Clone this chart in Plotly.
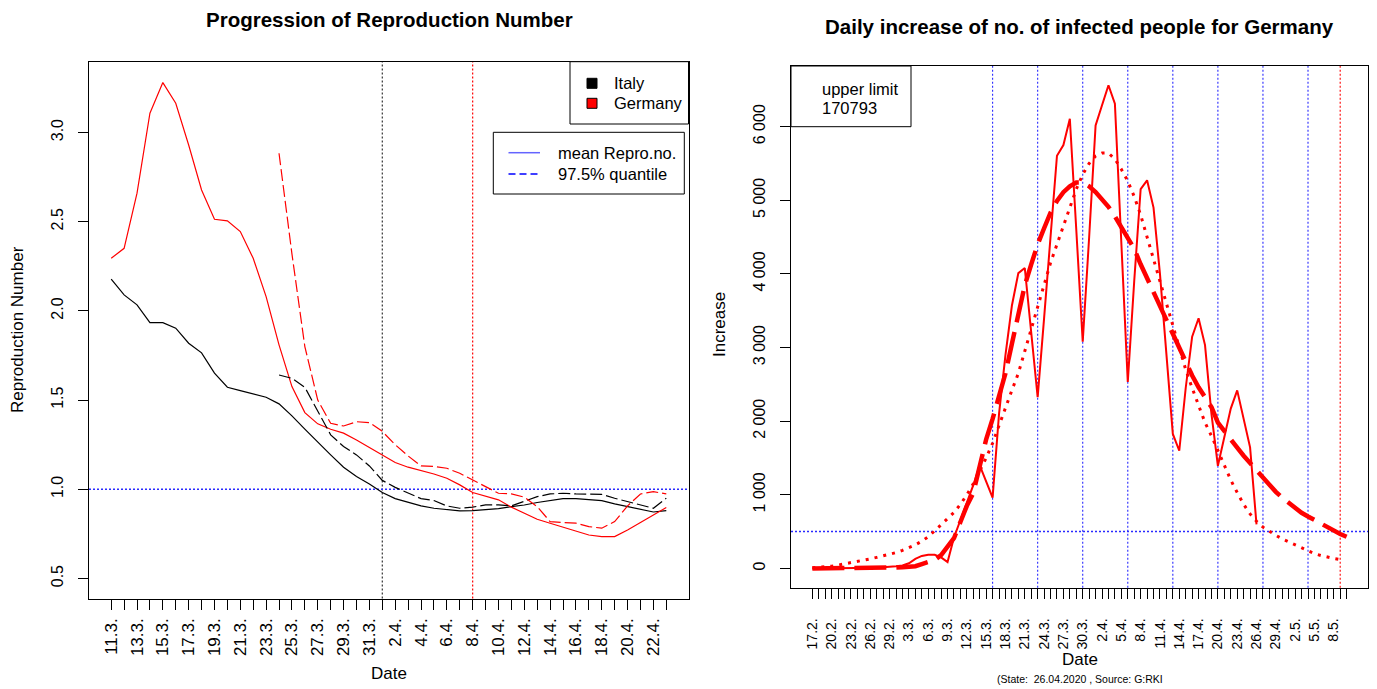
import pandas as pd
import plotly.graph_objects as go

W, H = 1377, 689
FONT = "Liberation Sans, Arial, sans-serif"

# ---------------- left panel: reproduction number (daily from 11.3.2020) ----------------
left_start = "2020-03-11"
italy_mean = [2.178, 2.09, 2.034, 1.934, 1.934, 1.903, 1.819, 1.765, 1.651, 1.572,
              1.553, 1.534, 1.516, 1.479, 1.412, 1.337, 1.262, 1.193, 1.124, 1.072,
              1.030, 0.982, 0.948, 0.926, 0.907, 0.894, 0.885, 0.879, 0.881, 0.885,
              0.892, 0.903, 0.912, 0.926, 0.937, 0.948, 0.948, 0.944, 0.937, 0.918,
              0.903, 0.888, 0.873, 0.881]
germany_mean = [2.295, 2.351, 2.66, 3.108, 3.28, 3.164, 2.93, 2.678, 2.514, 2.505,
                2.445, 2.295, 2.08, 1.81, 1.576, 1.43, 1.367, 1.337, 1.315, 1.277,
                1.234, 1.19, 1.15, 1.124, 1.105, 1.086, 1.062, 1.025, 0.982, 0.963,
                0.941, 0.900, 0.866, 0.832, 0.810, 0.787, 0.768, 0.744, 0.735, 0.735,
                0.772, 0.813, 0.856, 0.898]
quantile_start = "2020-03-24"
italy_q975 = [1.641, 1.622, 1.572, 1.436, 1.305, 1.240, 1.193, 1.131, 1.05, 1.011,
              0.981, 0.948, 0.937, 0.907, 0.894, 0.900, 0.913, 0.913, 0.907, 0.931,
              0.959, 0.974, 0.978, 0.974, 0.974, 0.972, 0.950, 0.931, 0.913, 0.894,
              0.950]
germany_q975 = [2.884, 2.32, 1.80, 1.50, 1.37, 1.355, 1.379, 1.374, 1.325, 1.25,
                1.187, 1.131, 1.128, 1.118, 1.09, 1.053, 1.015, 0.978, 0.974, 0.956,
                0.903, 0.819, 0.814, 0.810, 0.791, 0.782, 0.819, 0.907, 0.974, 0.987,
                0.974]
left_yticks = [0.5, 1.0, 1.5, 2.0, 2.5, 3.0]
left_vline_black = "2020-04-01"
left_vline_red = "2020-04-08"
left_hline = 1.0
left_legend1 = ["Italy", "Germany"]
left_legend2 = ["mean Repro.no.", "97.5% quantile"]

# ---------------- right panel: daily increase Germany (daily from 17.2.2020) ----------------
right_start = "2020-02-17"
right_axis_days = 84
daily_increase = [0, 0, 0, 0, 0, 0, 0, 0, 2, 5,
                  10, 15, 20, 30, 40, 70, 130, 170, 185, 185,
                  150, 86, 420, 650, 880, 1130, 1400, 1190, 961, 2100,
                  2900, 3570, 4010, 4080, 3200, 2326, 3400, 4500, 5605, 5750,
                  6106, 4600, 3078, 4500, 6015, 6290, 6561, 6311, 4400, 2531,
                  3900, 5150, 5270, 4900, 4000, 2950, 1826, 1598, 2450, 3146,
                  3397, 3033, 2100, 1393, 1800, 2170, 2418, 2040, 1644, 597]
fit_curve = [0, 0, 0, 0, 0, 0, 0, 1, 1, 2,
             3, 5, 8, 12, 17, 22, 30, 59, 85, 115,
             180, 298, 410, 630, 850, 1025, 1400, 1753, 2030, 2330,
             2650, 3050, 3460, 3843, 4130, 4400, 4620, 4830, 4990, 5110,
             5190, 5240, 5240, 5190, 5110, 5020, 4910, 4780, 4630, 4480,
             4340, 4130, 3940, 3750, 3560, 3380, 3180, 2990, 2800, 2620,
             2460, 2330, 2190, 1980, 1860, 1760, 1640, 1530, 1430, 1330,
             1240, 1120, 1040, 960, 890, 820, 755, 705, 655, 605,
             560, 515, 468, 430]
gauss_curve = [10, 15, 22, 30, 45, 60, 75, 92, 110, 130,
               150, 170, 190, 215, 245, 280, 320, 370, 430, 510,
               590, 680, 760, 870, 1000, 1150, 1320, 1500, 1700, 1950,
               2200, 2420, 2650, 2950, 3250, 3550, 3850, 4150, 4400, 4650,
               4900, 5150, 5350, 5500, 5600, 5640, 5640, 5560, 5420, 5260,
               5050, 4800, 4500, 4200, 3900, 3600, 3300, 3000, 2700, 2450,
               2200, 1980, 1800, 1600, 1400, 1200, 1030, 870, 740, 640,
               560, 500, 450, 400, 360, 320, 270, 230, 200, 175,
               150, 135, 120]
right_yticks = [0, 1000, 2000, 3000, 4000, 5000, 6000]
right_ytick_text = ["0", "1 000", "2 000", "3 000", "4 000", "5 000", "6 000"]
monday_lines = ["2020-03-16", "2020-03-23", "2020-03-30", "2020-04-06",
                "2020-04-13", "2020-04-20", "2020-04-27", "2020-05-04"]
right_vline_red = "2020-05-09"
right_hline = 500
upper_limit = 170793
state_note = "(State:  26.04.2020 , Source: G:RKI"

# ---------------- derived axes ----------------
left_dates = pd.date_range(left_start, periods=len(italy_mean), freq="D")
q_dates = pd.date_range(quantile_start, periods=len(italy_q975), freq="D")
left_ticktext = [f"{d.day}.{d.month}." if k % 2 == 0 else "" for k, d in enumerate(left_dates)]
right_axis_dates = pd.date_range(right_start, periods=right_axis_days, freq="D")
right_ticktext = [f"{d.day}.{d.month}." if k % 3 == 0 else "" for k, d in enumerate(right_axis_dates)]
daily_dates = right_axis_dates[:len(daily_increase)]
fit_dates = right_axis_dates[:len(fit_curve)]
gauss_dates = right_axis_dates[:len(gauss_curve)]


def pad_range(dates, frac=0.04):
    span = dates[-1] - dates[0]
    lo = dates[0] - span * frac
    hi = dates[-1] + span * frac
    return [lo.strftime("%Y-%m-%d %H:%M:%S"), hi.strftime("%Y-%m-%d %H:%M:%S")]


def fx(x):
    return x / W


def fy(y):
    return 1 - y / H


L_BOX = (89, 688.5, 61.7, 598.5)
R_BOX = (791, 1368, 66, 587.7)

fig = go.Figure()

# left traces
fig.add_trace(go.Scatter(x=left_dates, y=italy_mean, mode="lines",
                         line=dict(color="black", width=1.2), xaxis="x", yaxis="y"))
fig.add_trace(go.Scatter(x=left_dates, y=germany_mean, mode="lines",
                         line=dict(color="red", width=1.2), xaxis="x", yaxis="y"))
fig.add_trace(go.Scatter(x=q_dates, y=italy_q975, mode="lines",
                         line=dict(color="black", width=1.2, dash="12px,4px"), xaxis="x", yaxis="y"))
fig.add_trace(go.Scatter(x=q_dates, y=germany_q975, mode="lines",
                         line=dict(color="red", width=1.2, dash="12px,4px"), xaxis="x", yaxis="y"))

# right traces
fig.add_trace(go.Scatter(x=daily_dates, y=daily_increase, mode="lines",
                         line=dict(color="red", width=2), xaxis="x2", yaxis="y2"))
fig.add_trace(go.Scatter(x=gauss_dates, y=gauss_curve, mode="lines",
                         line=dict(color="red", width=3, dash="3px,6px"), xaxis="x2", yaxis="y2"))
fig.add_trace(go.Scatter(x=fit_dates, y=fit_curve, mode="lines",
                         line=dict(color="red", width=4.5, dash="32px,10px"), xaxis="x2", yaxis="y2"))

axis_common = dict(showgrid=False, zeroline=False, showline=True, linecolor="black",
                   linewidth=1, mirror=True, ticks="outside", ticklen=10,
                   tickcolor="black", tickwidth=1)

fig.update_layout(
    width=W, height=H, autosize=False, showlegend=False,
    margin=dict(l=0, r=0, t=0, b=0), paper_bgcolor="white", plot_bgcolor="white",
    font=dict(family=FONT, color="black"),
    xaxis=dict(domain=[fx(L_BOX[0]), fx(L_BOX[1])], anchor="y", type="date",
               range=pad_range(left_dates), tickmode="array",
               tickvals=list(left_dates), ticktext=left_ticktext, tickangle=-90,
               ticklabelstandoff=2,
               tickfont=dict(size=17, family=FONT), **axis_common),
    yaxis=dict(domain=[fy(L_BOX[3]), fy(L_BOX[2])], anchor="x", range=[0.388, 3.397],
               tickmode="array", tickvals=left_yticks,
               ticktext=[f"{v:.1f}" for v in left_yticks], tickangle=-90,
               ticklabelstandoff=9,
               tickfont=dict(size=16, family=FONT), **axis_common),
    xaxis2=dict(domain=[fx(R_BOX[0]), fx(R_BOX[1])], anchor="y2", type="date",
                range=pad_range(right_axis_dates), tickmode="array",
                tickvals=list(right_axis_dates), ticktext=right_ticktext, tickangle=-90,
                ticklabelstandoff=14,
                tickfont=dict(size=14, family=FONT), **axis_common),
    yaxis2=dict(domain=[fy(R_BOX[3]), fy(R_BOX[2])], anchor="x2", range=[-262, 6823],
                tickmode="array", tickvals=right_yticks, ticktext=right_ytick_text,
                tickangle=-90, ticklabelstandoff=9,
                tickfont=dict(size=16, family=FONT), **axis_common),
)

BLUE = "#2a2aff"
shapes = []
# left reference lines
shapes.append(dict(type="line", xref="x", yref="y domain", x0=left_vline_black, x1=left_vline_black,
                   y0=0, y1=1, line=dict(color="#333333", width=1.2, dash="2px,2px"), layer="below"))
shapes.append(dict(type="line", xref="x", yref="y domain", x0=left_vline_red, x1=left_vline_red,
                   y0=0, y1=1, line=dict(color="red", width=1.2, dash="2px,2px"), layer="below"))
shapes.append(dict(type="line", xref="x domain", yref="y", x0=0, x1=1, y0=left_hline, y1=left_hline,
                   line=dict(color=BLUE, width=1.5, dash="2px,2px"), layer="below"))
# right reference lines
for d in monday_lines:
    shapes.append(dict(type="line", xref="x2", yref="y2 domain", x0=d, x1=d, y0=0, y1=1,
                       line=dict(color=BLUE, width=1.1, dash="2px,2px"), layer="below"))
shapes.append(dict(type="line", xref="x2", yref="y2 domain", x0=right_vline_red, x1=right_vline_red,
                   y0=0, y1=1, line=dict(color="red", width=1.1, dash="2px,2px"), layer="below"))
shapes.append(dict(type="line", xref="x2 domain", yref="y2", x0=0, x1=1, y0=right_hline, y1=right_hline,
                   line=dict(color=BLUE, width=1.5, dash="2px,2px"), layer="below"))

# left legend 1 (countries)
shapes.append(dict(type="rect", xref="paper", yref="paper", x0=fx(570), x1=fx(688.5),
                   y0=fy(124), y1=fy(61.7), line=dict(color="black", width=1), fillcolor="white"))
for k, col in enumerate(["black", "red"]):
    yc = 83.3 + 20 * k
    shapes.append(dict(type="rect", xref="paper", yref="paper", x0=fx(587), x1=fx(597),
                       y0=fy(yc + 5), y1=fy(yc - 5), line=dict(color="black", width=1), fillcolor=col))
# left legend 2 (line types)
shapes.append(dict(type="rect", xref="paper", yref="paper", x0=fx(493.3), x1=fx(684.3),
                   y0=fy(194), y1=fy(132.3), line=dict(color="black", width=1), fillcolor="white"))
shapes.append(dict(type="line", xref="paper", yref="paper", x0=fx(508.5), x1=fx(540),
                   y0=fy(152.7), y1=fy(152.7), line=dict(color="#6464ff", width=1.5)))
shapes.append(dict(type="line", xref="paper", yref="paper", x0=fx(508.5), x1=fx(540),
                   y0=fy(174), y1=fy(174), line=dict(color="#0000ff", width=1.3, dash="7px,4px")))
# right legend box
shapes.append(dict(type="rect", xref="paper", yref="paper", x0=fx(R_BOX[0]), x1=fx(911),
                   y0=fy(126.7), y1=fy(R_BOX[2]), line=dict(color="black", width=1), fillcolor="white"))

fig.update_layout(shapes=shapes)

ann = []


def text(x, y, s, size, xanchor="center", yanchor="middle", angle=0, bold=False):
    ann.append(dict(x=fx(x), y=fy(y), xref="paper", yref="paper", text=(f"<b>{s}</b>" if bold else s),
                    showarrow=False, xanchor=xanchor, yanchor=yanchor, textangle=angle,
                    font=dict(family=FONT, size=size, color="black")))


text(389, 20, "Progression of Reproduction Number", 20.5, bold=True)
text(1079, 27, "Daily increase of no. of infected people for Germany", 20.5, bold=True)
text(18, 330, "Reproduction Number", 17, angle=-90)
text(719, 325, "Increase", 17, angle=-90)
text(389, 673, "Date", 17)
text(1080, 659, "Date", 17)
text(1080, 679, state_note, 10.5)
text(612, 83.3, left_legend1[0], 16.5, xanchor="left")
text(612, 103.3, left_legend1[1], 16.5, xanchor="left")
text(555.5, 152.7, left_legend2[0], 16.5, xanchor="left")
text(555.5, 174, left_legend2[1], 16.5, xanchor="left")
text(820, 89, "upper limit", 16.5, xanchor="left")
text(820, 108, str(upper_limit), 16.5, xanchor="left")

fig.update_layout(annotations=ann)
fig.write_html("out.html", config={"displayModeBar": False},
               post_script="document.body.style.margin='0';document.body.style.padding='0';")
